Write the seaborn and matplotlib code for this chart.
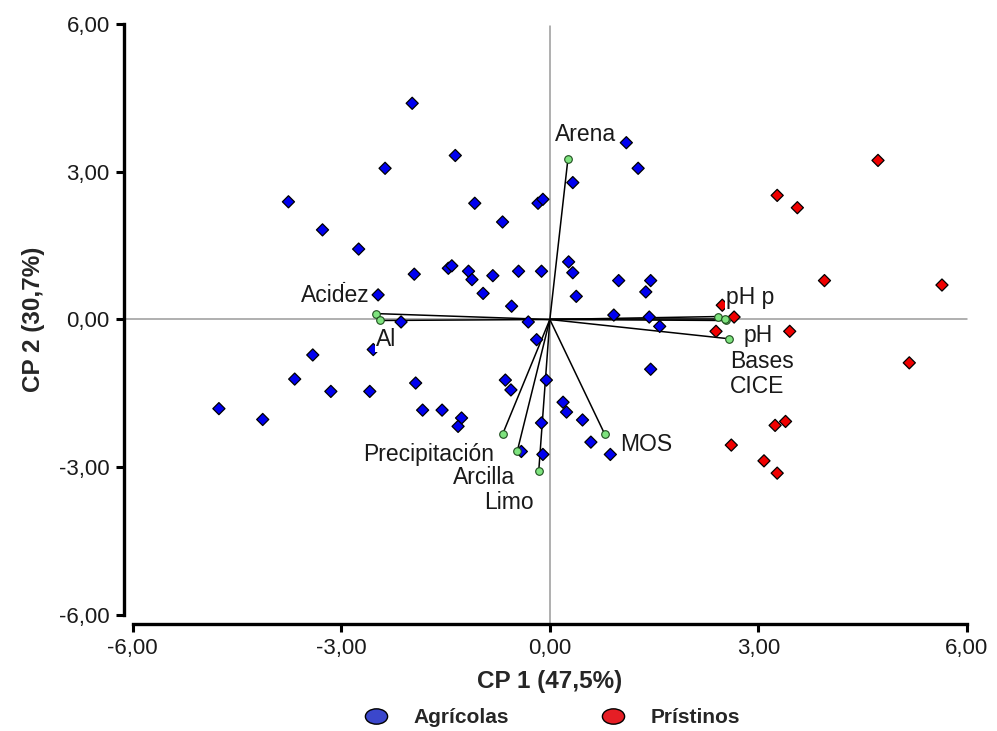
import numpy as np
import pandas as pd
import matplotlib
matplotlib.use("Agg")
import matplotlib.pyplot as plt
from matplotlib.lines import Line2D
from matplotlib.path import Path
from matplotlib.transforms import Affine2D
from matplotlib.ticker import FuncFormatter, FixedLocator
import seaborn as sns

# PCA scores: agricultural sites
agri_cp1 = [-1.98, -1.36, -2.37, -3.76, -1.08, -0.17, -0.10, -3.27, -0.68, -2.75,
            -1.95, -1.46, -1.41, -1.17, -1.12, -0.82, -0.45, -0.12, -0.96, -0.55,
            -2.47, -2.14, -0.31, -0.19, -2.54, -2.96, -3.41, -3.67, -3.15, -2.59,
            -1.93, -4.76, -4.13, -1.83, -1.55, -1.27, -1.32, -0.64, -0.56, -0.05,
            -0.12, -0.10, -0.41, 1.10, 1.27, 0.33, 0.27, 0.33, 0.38, 0.99,
            1.45, 1.38, 0.92, 1.43, 1.58, 1.45, 0.19, 0.24, 0.47, 0.59, 0.87]
agri_cp2 = [4.39, 3.33, 3.07, 2.39, 2.36, 2.36, 2.44, 1.82, 1.98, 1.43,
            0.92, 1.04, 1.09, 0.98, 0.81, 0.89, 0.98, 0.98, 0.53, 0.27,
            0.50, -0.05, -0.05, -0.41, -0.61, 0.63, -0.72, -1.21, -1.46, -1.46,
            -1.29, -1.81, -2.03, -1.84, -1.84, -2.00, -2.17, -1.23, -1.43, -1.23,
            -2.10, -2.74, -2.68, 3.59, 3.07, 2.78, 1.17, 0.95, 0.47, 0.79,
            0.79, 0.56, 0.09, 0.05, -0.14, -1.01, -1.68, -1.88, -2.04, -2.49, -2.74]

# PCA scores: pristine sites
prist_cp1 = [4.72, 3.27, 3.56, 3.95, 5.64, 2.48, 2.65, 2.39, 3.45, 5.17,
             3.39, 3.24, 2.61, 3.08, 3.27]
prist_cp2 = [3.23, 2.52, 2.27, 0.79, 0.70, 0.29, 0.05, -0.24, -0.24, -0.88,
             -2.07, -2.15, -2.55, -2.87, -3.12]

# Variable loadings (biplot vectors)
var_names = ["Arena", "Acidez", "Al", "Precipitación", "Arcilla", "Limo",
             "MOS", "pH p", "pH", "Bases", "CICE"]
var_cp1 = [0.26, -2.50, -2.44, -0.68, -0.47, -0.16, 0.79, 2.42, 2.57, 2.54, 2.52]
var_cp2 = [3.26, 0.12, -0.02, -2.33, -2.68, -3.08, -2.33, 0.06, -0.39, -0.02, 0.00]

# Label placement (pixel offsets from vector tips, alignment)
label_offsets = {
    "Arena": (18, 24, "center"),
    "Acidez": (-6, 18, "right"),
    "Al": (-4, -19, "left"),
    "Precipitación": (-8, -20, "right"),
    "Arcilla": (-2, -26, "right"),
    "Limo": (-5, -31, "right"),
    "MOS": (15, -10, "left"),
    "pH p": (8, 19, "left"),
    "pH": (15, 3, "left"),
    "Bases": (4, -41, "left"),
    "CICE": (5, -67, "left"),
}

group_names = ["Agrícolas", "Prístinos"]
scores = pd.DataFrame({
    "CP1": agri_cp1 + prist_cp1,
    "CP2": agri_cp2 + prist_cp2,
    "Grupo": [group_names[0]] * len(agri_cp1) + [group_names[1]] * len(prist_cp1),
})
loadings = pd.DataFrame({"Variable": var_names, "CP1": var_cp1, "CP2": var_cp2})

sns.set_theme(style="white")
plt.rcParams["font.family"] = ["Liberation Sans", "DejaVu Sans"]

fig = plt.figure(figsize=(9.97, 7.31), dpi=100)
W, H = 997, 731
ax = fig.add_axes([132.7 / W, 1 - 615 / H, (967 - 132.7) / W, (615 - 24) / H])
ax.set_xlim(-6, 6)
ax.set_ylim(-6, 6)

# reference axes through the origin
ax.axhline(0, xmin=-0.0105, xmax=1.0, color="#9a9a9a", lw=1.1, zorder=1, clip_on=False)
ax.axvline(0, ymin=-0.0155, ymax=0.996, color="#9a9a9a", lw=1.1, zorder=1, clip_on=False)

# loading vectors
for _, r in loadings.iterrows():
    ax.plot([0, r.CP1], [0, r.CP2], color="black", lw=1.1, zorder=2,
            solid_capstyle="butt")

palette = {group_names[0]: "#0000f0", group_names[1]: "#f00000"}
sns.scatterplot(data=scores, x="CP1", y="CP2", hue="Grupo", palette=palette,
                marker="D", s=38, edgecolor="black", linewidth=0.9,
                legend=False, zorder=3, ax=ax)

sns.scatterplot(data=loadings, x="CP1", y="CP2", color="#7ee37e", marker="o",
                s=30, edgecolor="#1e4d1e", linewidth=0.8, legend=False,
                zorder=4, ax=ax)

for _, r in loadings.iterrows():
    dx, dy, ha = label_offsets[r.Variable]
    ax.annotate(r.Variable, (r.CP1, r.CP2), xytext=(dx, dy),
                textcoords="offset pixels", ha=ha, va="center",
                fontsize=16.5, color="#1a1a1a", zorder=5,
                bbox=dict(boxstyle="square,pad=0.05", fc="white", ec="none"))

# axes styling
sns.despine(ax=ax, offset=6.5)
for side in ("left", "bottom"):
    ax.spines[side].set_linewidth(2.4)
    ax.spines[side].set_color("black")
ticks = [-6, -3, 0, 3, 6]
ax.xaxis.set_major_locator(FixedLocator(ticks))
ax.yaxis.set_major_locator(FixedLocator(ticks))
fmt = FuncFormatter(lambda v, p: f"{v:.2f}".replace(".", ","))
ax.xaxis.set_major_formatter(fmt)
ax.yaxis.set_major_formatter(fmt)
ax.tick_params(axis="both", direction="out", length=6, width=2.2,
               labelsize=16, labelcolor="#1a1a1a", color="black",
               bottom=True, left=True, pad=4)
ax.set_xlabel("CP 1 (47,5%)", fontsize=17.5, fontweight="bold", labelpad=8)
ax.set_ylabel("CP 2 (30,7%)", fontsize=17.5, fontweight="bold", labelpad=10)
ax.grid(False)

# legend with oval markers
oval = Path.unit_circle().transformed(Affine2D().scale(1.45, 1.0))
handles = [
    Line2D([], [], linestyle="none", marker=oval, markersize=16,
           markerfacecolor="#3b47cc", markeredgecolor="black", markeredgewidth=1.0),
    Line2D([], [], linestyle="none", marker=oval, markersize=16,
           markerfacecolor="#e51e25", markeredgecolor="black", markeredgewidth=1.0),
]
fig.legend(handles, group_names, loc="center", bbox_to_anchor=(0.549, 0.018),
           ncol=2, frameon=False, prop={"weight": "bold", "size": 15},
           handletextpad=0.8, columnspacing=4.0, borderaxespad=0)

fig.savefig("out.png", dpi=100, facecolor="white")
